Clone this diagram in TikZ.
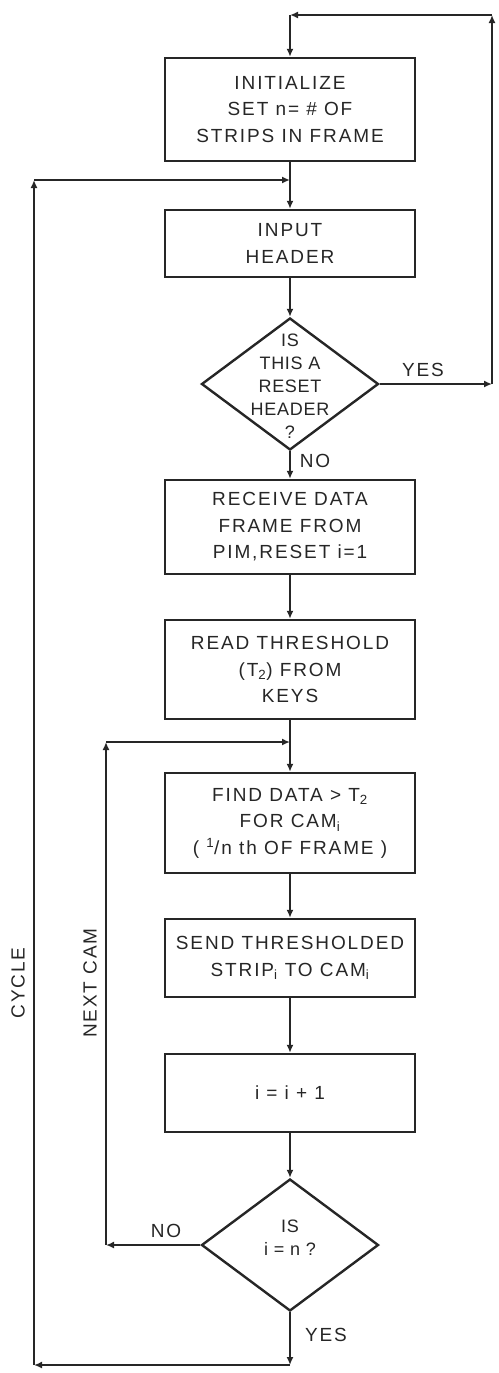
\documentclass[tikz,border=0pt]{standalone}
\usepackage{fontspec}
\setmainfont[LetterSpace=10]{Liberation Sans}
\usepackage{tikz}
\usetikzlibrary{arrows.meta,shapes.geometric}
\newcommand{\boxfont}{\fontsize{19}{26.5}\selectfont}
\newcommand{\askfont}{\fontsize{18}{23}\selectfont\addfontfeatures{LetterSpace=4}}
\tikzset{
  wire/.style={black!85,line width=1.8pt},
  flow/.style={wire,-{Latex[length=8pt,width=7pt]}},
  stepbox/.style={draw=black!85,line width=2.4pt,minimum width=250pt,inner sep=0pt,
                  align=center,font=\boxfont,text=black!85},
  decision/.style={draw=black!85,shape=diamond,line width=2.4pt,minimum width=177pt,
                   minimum height=132pt,inner sep=0pt},
  asktext/.style={align=center,font=\askfont,inner sep=0pt,text=black!85},
  lab/.style={font=\boxfont,text=black!85},
}

\begin{document}
\begin{tikzpicture}[x=1pt,y=-1pt]
  \path[use as bounding box] (0,0) rectangle (498,1373);

  % main column
  \node[stepbox,minimum height=103pt] (init) at (290,109.5)
    {INITIALIZE\\SET n= \# OF\\STRIPS IN FRAME};
  \node[stepbox,minimum height=67pt] (input) at (290,243.5) {INPUT\\HEADER};
  \node[decision] (q1) at (290,384) {};
  \node[asktext] (q1t) at (290,386) {IS\\THIS A\\RESET\\HEADER\\?};
  \node[stepbox,minimum height=94pt] (receive) at (290,527)
    {RECEIVE DATA\\FRAME FROM\\PIM,RESET i=1};
  \node[stepbox,minimum height=99pt] (read) at (290,669.5)
    {READ THRESHOLD\\(T\textsubscript{2}) FROM\\KEYS};
  \node[stepbox,minimum height=100pt] (find) at (290,823)
    {FIND DATA > T\textsubscript{2}\\FOR CAM\textsubscript{i}\\( \textsuperscript{1}/n th OF FRAME )};
  \node[stepbox,minimum height=78pt] (send) at (290,958)
    {SEND THRESHOLDED\\STRIP\textsubscript{i} TO CAM\textsubscript{i}};
  \node[stepbox,minimum height=78pt] (inc) at (290,1093) {i = i + 1};
  \node[decision] (q2) at (290,1245) {};
  \node[asktext] (q2t) at (290,1238) {IS\\i = n ?};

  % corners of the loops
  \coordinate (yesR) at (492,384);
  \coordinate (topR) at (492,15);
  \coordinate (topL) at (290,15);
  \coordinate (cycJ) at (290,180);
  \coordinate (endB) at (290,1365);
  \coordinate (cycB) at (34,1365);
  \coordinate (cycT) at (34,180);
  \coordinate (nxtB) at (106,1245);
  \coordinate (nxtT) at (106,742);
  \coordinate (nxtJ) at (290,742);

  \draw[flow] (q1.east) -- (yesR);
  \draw[flow] (yesR) -- (topR);
  \draw[flow] (topR) -- (topL);
  \draw[flow] (topL) -- (init.north);
  \draw[wire] (init.south) -- (cycJ);
  \draw[flow] (cycJ) -- (input.north);
  \draw[flow] (input) -- (q1);
  \draw[flow] (q1) -- (receive);
  \draw[flow] (receive) -- (read);
  \draw[wire] (read.south) -- (nxtJ);
  \draw[flow] (nxtJ) -- (find.north);
  \draw[flow] (find) -- (send);
  \draw[flow] (send) -- (inc);
  \draw[flow] (inc) -- (q2);
  \draw[flow] (q2.west) -- (nxtB);
  \draw[flow] (nxtB) -- (nxtT);
  \draw[flow] (nxtT) -- (nxtJ);
  \draw[flow] (q2.south) -- (endB);
  \draw[flow] (endB) -- (cycB);
  \draw[flow] (cycB) -- (cycT);
  \draw[flow] (cycT) -- (cycJ);

  % branch labels
  \node[lab] (yes1) at (423,370) {YES};
  \node[lab] (no1) at (315,461) {NO};
  \node[lab] (no2) at (166,1231) {NO};
  \node[lab] (yes2) at (326,1335) {YES};
  \node[lab,rotate=90] (cycle) at (18,983) {CYCLE};
  \node[lab,rotate=90] (nextcam) at (90,983) {NEXT CAM};
\end{tikzpicture}
\end{document}
